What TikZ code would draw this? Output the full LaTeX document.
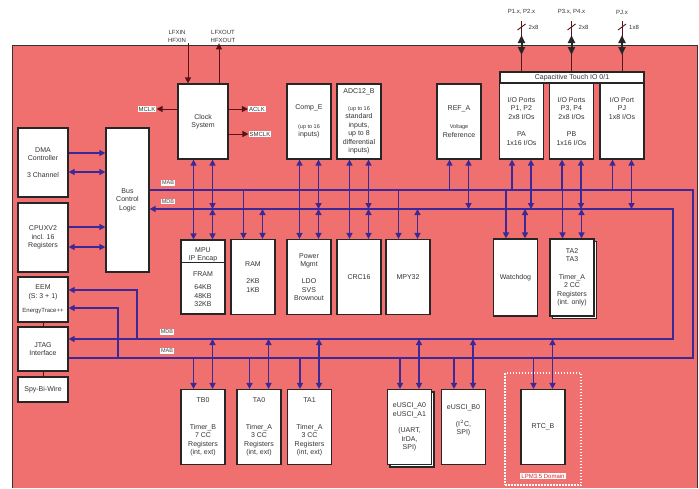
\documentclass[tikz,border=0pt]{standalone}
\usepackage{fontspec}
\setmainfont{Liberation Sans}
\usepackage{xcolor}
\definecolor{chipRed}{RGB}{240,112,112}
\definecolor{busBlue}{RGB}{60,40,150}
\definecolor{pinDark}{RGB}{90,20,25}
\definecolor{lpmRed}{RGB}{215,40,40}
\usepackage{tikz}
\usetikzlibrary{arrows.meta,shadows}

\newcommand{\smtxt}{\fontsize{5.5}{7.5}\selectfont}

\tikzset{
  blk/.style={draw=black!85, line width=1.2pt, fill=white, text=black!80, align=center, inner sep=1pt, font=\fontsize{7}{8.5}\selectfont},
  mod/.style={blk, minimum width=44pt, minimum height=75pt},
  sidebox/.style={blk, minimum width=50pt},
  stack/.style={copy shadow={shadow xshift=2.5pt, shadow yshift=-2.5pt}},
  bus/.style={draw=busBlue, line width=1.8pt},
  clkline/.style={draw=pinDark, line width=0.9pt},
  pinarrow/.style={draw=black!85, line width=2pt, {Triangle[length=8pt,width=7pt]}-{Triangle[length=8pt,width=7pt]}},
  sig/.style={fill=white, inner sep=1pt, text=black!80, align=center, font=\fontsize{6}{8}\selectfont},
  buslbl/.style={fill=white, inner sep=0.8pt, text=black!75, font=\fontsize{5.5}{5.5}\selectfont}
}

\begin{document}
\begin{tikzpicture}[x=1pt, y=-1pt, >={Triangle[length=6pt,width=6pt]}]
  \useasboundingbox (0,0) rectangle (699,488);
  \fill[white] (0,0) rectangle (699,488);
  % ------- chip area -------
  \fill[chipRed] (12,45) rectangle (697,488);
  \draw[black!80, line width=1pt] (12,488) -- (12,45) -- (697,45) -- (697,488);

  % ------- left column -------
  \node[sidebox, minimum height=69pt] (dma) at (43,162.5) {DMA\\Controller\\[8.5pt]3 Channel};
  \node[sidebox, minimum height=69pt] (cpu) at (43,237.5) {CPUXV2\\incl. 16\\Registers};
  \node[sidebox, minimum height=45pt] (eem) at (43,299.5) {EEM\\(S: 3 + 1)\\[6pt]{\fontsize{6}{7}\selectfont EnergyTrace++}};
  \node[sidebox, minimum height=44pt] (jtag) at (43,349) {JTAG\\Interface};
  \node[sidebox, minimum height=25pt] (sbw) at (43,389.5) {Spy-Bi-Wire};
  \node[blk, minimum width=43pt, minimum height=144pt] (bcl) at (127.5,200) {Bus\\Control\\Logic};
  \draw[pinDark, line width=0.6pt] (eem.south) -- (jtag.north);
  \draw[pinDark, line width=0.6pt] (jtag.south) -- (sbw.north);

  % ------- modules above the bus -------
  \node[mod, minimum width=50pt] (clk) at (203,121.5) {Clock\\System};
  \node[mod] (comp) at (309,121.5) {Comp\_E\\[10pt]\smtxt (up to 16\\inputs)};
  \node[mod] (adc) at (359,121.5) {ADC12\_B\\[8pt]\smtxt (up to 16\\standard\\inputs,\\up to 8\\differential\\inputs)};
  \node[mod] (ref) at (459,121.5) {REF\_A\\[10pt]\smtxt Voltage\\Reference};
  \node[blk, minimum width=144pt, minimum height=11pt, inner sep=0pt] (cap) at (572,77.5) {Capacitive Touch IO 0/1};
  \node[mod, minimum height=76pt] (pa) at (521.5,121) {I/O Ports\\P1, P2\\2x8 I/Os\\[9pt]PA\\1x16 I/Os};
  \node[mod, minimum height=76pt] (pb) at (571.5,121) {I/O Ports\\P3, P4\\2x8 I/Os\\[9pt]PB\\1x16 I/Os};
  \node[mod, minimum height=76pt] (pj) at (622,121) {I/O Port\\PJ\\1x8 I/Os\\[9pt]\phantom{PA}\\\phantom{1x16}};

  % ------- modules between the buses -------
  \node[mod, minimum height=74pt] (mpu) at (203,277) {MPU\\IP Encap\\[7pt]FRAM\\[5pt]64KB\\48KB\\32KB};
  \draw[black!85, line width=0.8pt] ([yshift=-23pt]mpu.north west) -- ([yshift=-23pt]mpu.north east);
  \node[mod] (ram) at (253,277) {RAM\\[8.5pt]2KB\\1KB};
  \node[mod] (pmm) at (309,277) {Power\\Mgmt\\[8.5pt]LDO\\SVS\\Brownout};
  \node[mod] (crc) at (359,277) {CRC16};
  \node[mod] (mpy) at (408,277) {MPY32};
  \node[mod, minimum height=77pt] (wdt) at (515.5,277.5) {Watchdog};
  \node[mod, stack, minimum height=77pt] (ta2) at (572,277.5) {TA2\\TA3\\[9pt]Timer\_A\\2 CC\\Registers\\(int. only)};

  % ------- modules below the bus -------
  \node[draw=white, line width=2.5pt, dash pattern=on 1.5pt off 1.5pt, minimum width=76pt, minimum height=112pt] (lpm) at (543,429) {};
  \node[fill=white, text=lpmRed, inner sep=1pt, font=\fontsize{6}{6}\selectfont] (lpmlbl) at ([yshift=10pt]lpm.south) {LPM3.5 Domain};
  \node[mod] (tb0) at (203,427) {TB0\\[18pt]Timer\_B\\7 CC\\Registers\\(int, ext)};
  \node[mod] (ta0) at (259,427) {TA0\\[18pt]Timer\_A\\3 CC\\Registers\\(int, ext)};
  \node[mod] (ta1) at (309.5,427) {TA1\\[18pt]Timer\_A\\3 CC\\Registers\\(int, ext)};
  \node[mod, stack] (uscia) at (409.5,427) {eUSCI\_A0\\eUSCI\_A1\\[8pt](UART,\\IrDA,\\SPI)};
  \node[mod] (uscib) at (463.5,427) {eUSCI\_B0\\[8pt](I$^2$C,\\SPI)\\[6pt]\phantom{X}};
  \node[mod] (rtc) at (543,427) {RTC\_B};

  % ------- buses -------
  \coordinate (mabR) at (693,190);
  \coordinate (mdbR) at (673,209);
  \coordinate (mabL) at (693,358);
  \coordinate (mdbL) at (673,339);
  \draw[bus] ([yshift=10pt]bcl.east) -- (mabR) -- (mabL) -- (mabL -| jtag.east);
  \draw[bus, <->] (mdbR -| bcl.east) -- (mdbR) -- (mdbL) -- (mdbL -| jtag.east);
  \node[buslbl] (mabTop) at (168,183) {MAB};
  \node[buslbl] (mdbTop) at (168,201.5) {MDB};
  \node[buslbl] (mdbBot) at (167,332) {MDB};
  \node[buslbl] (mabBot) at (167,351) {MAB};
  % EEM taps
  \coordinate (eemD) at (137,339);
  \coordinate (eemA) at (118,358);
  \draw[bus, ->] (eemD) |- ([yshift=9.5pt]eem.east);
  \draw[bus, ->] (eemA) |- ([yshift=-8.5pt]eem.east);
  % DMA and CPU to bus control
  \draw[bus, ->] ([yshift=9.5pt]dma.east) -- ([yshift=9.5pt]dma.east -| bcl.west);
  \draw[bus, <->] ([yshift=-9.5pt]dma.east) -- ([yshift=-9.5pt]dma.east -| bcl.west);
  \draw[bus, ->] ([yshift=10.5pt]cpu.east) -- ([yshift=10.5pt]cpu.east -| bcl.west);
  \draw[bus, <->] ([yshift=-9.5pt]cpu.east) -- ([yshift=-9.5pt]cpu.east -| bcl.west);

  % taps to the modules
  \foreach \m in {clk,comp,adc,ref,pa,pb,pj} {
    \draw[bus, ->] ([xshift=-9.5pt]\m.south |- mabR) -- ([xshift=-9.5pt]\m.south);
    \draw[bus, <->] ([xshift=9.5pt]\m.south |- mdbR) -- ([xshift=9.5pt]\m.south);
  }
  \foreach \m in {mpu,ram,pmm,crc,mpy,wdt,ta2} {
    \draw[bus, ->] ([xshift=-9.5pt]\m.north |- mabR) -- ([xshift=-9.5pt]\m.north);
    \draw[bus, <->] ([xshift=9.5pt]\m.north |- mdbR) -- ([xshift=9.5pt]\m.north);
  }
  \foreach \m in {tb0,ta0,ta1,uscia,uscib,rtc} {
    \draw[bus, ->] ([xshift=-9.5pt]\m.north |- mabL) -- ([xshift=-9.5pt]\m.north);
    \draw[bus, <->] ([xshift=9.5pt]\m.north |- mdbL) -- ([xshift=9.5pt]\m.north);
  }

  % ------- clocks -------
  \node[sig] (mclk) at (147,109) {MCLK};
  \node[sig] (aclk) at (257,109) {ACLK};
  \node[sig] (smclk) at (260,134) {SMCLK};
  \draw[clkline, ->] ([yshift=12.5pt]clk.west) -- (mclk);
  \draw[clkline, ->] ([yshift=12.5pt]clk.east) -- (aclk);
  \draw[clkline, ->] ([yshift=-12.5pt]clk.east) -- (smclk);
  \node[sig, fill=none] (xin) at (177,36) {LFXIN\\HFXIN};
  \node[sig, fill=none] (xout) at (223,36) {LFXOUT\\HFXOUT};
  \draw[clkline, ->] ([xshift=-15pt]clk.north |- xin.south) -- ([xshift=-15pt]clk.north);
  \draw[clkline, ->] ([xshift=16pt]clk.north) -- ([xshift=16pt]clk.north |- xout.south);

  % ------- port pins -------
  \coordinate (pinTop) at (0,21);
  \coordinate (pinHi) at (0,35);
  \coordinate (pinLo) at (0,55);
  \coordinate (pinMid) at (0,27);
  \coordinate (pinTxt) at (0,12);
  \foreach \p/\t/\n in {pa/{P1.x, P2.x}/2x8, pb/{P3.x, P4.x}/2x8, pj/{PJ.x}/1x8} {
    \draw[clkline] (\p |- cap.north) -- (\p |- pinTop);
    \draw[pinarrow] (\p |- pinHi) -- (\p |- pinLo);
    \draw[clkline] ([xshift=-4pt, yshift=-3pt]\p |- pinMid) -- ([xshift=4pt, yshift=3pt]\p |- pinMid);
    \node[sig, fill=none] (\p-n) at ([xshift=12pt]\p |- pinMid) {\n};
    \node[sig, fill=none] (\p-t) at (\p |- pinTxt) {\t};
  }
\end{tikzpicture}
\end{document}
